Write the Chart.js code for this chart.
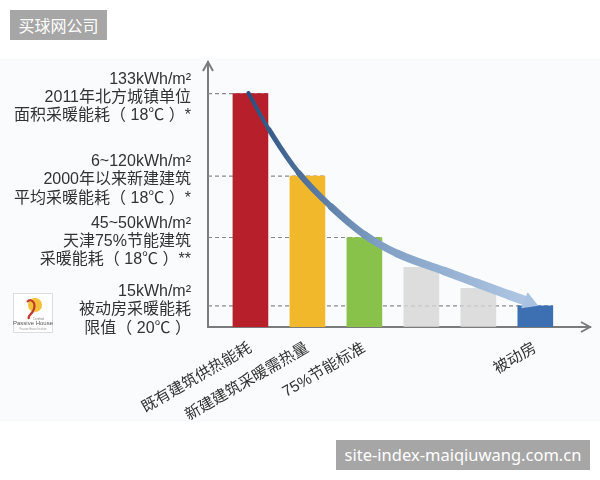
<!DOCTYPE html>
<html>
<head>
<meta charset="utf-8">
<script src="https://cdn.jsdelivr.net/npm/chart.js@4"></script>
<style>
  body { margin: 0; background: #fff; }
  #wrap { position: relative; width: 600px; height: 480px; overflow: hidden; }
  #photo { position: absolute; left: 0; top: 58px; width: 600px; height: 364px; background: #fafbfc; }
  #wrap canvas { position: absolute; left: 0; top: 0; }
  .mark { position: absolute; background: #a6a6a6; color: #fff; font-family: 'Noto Sans CJK SC', 'Noto Sans', sans-serif; text-align: center; }
  #mark1 { left: 10px; top: 10px; width: 97px; height: 30px; line-height: 30px; font-size: 16px; }
  #mark2 { left: 336px; top: 440px; width: 254px; height: 30px; line-height: 30px; font-size: 16.5px; font-family: 'Noto Sans', sans-serif; }
  #logo { position: absolute; left: 13px; top: 293px; width: 40px; height: 40px; }
</style>
</head>
<body>
<div id="wrap">
  <div id="photo"></div>
  <canvas id="chart" width="600" height="480"></canvas>
  <svg id="logo" viewBox="0 0 40 40">
    <rect x="0.5" y="0.5" width="39" height="39" fill="#fff" stroke="#ddd"/>
    <circle cx="22" cy="12" r="7" fill="#f4c03a"/>
    <path d="M14 9 q4 -4 7 1 q2 6 -4 12 q-2 2 -1 4" fill="none" stroke="#c0392b" stroke-width="2.2"/>
    <text x="31" y="27" font-size="3" fill="#888" text-anchor="end" font-family="Liberation Sans">Certified</text>
    <text x="20" y="32" font-size="6" fill="#555" text-anchor="middle" font-family="Liberation Sans">Passive House</text>
    <text x="20" y="36.5" font-size="2.6" fill="#999" text-anchor="middle" font-family="Liberation Sans">Passive House Institute</text>
  </svg>
  <div id="mark1" class="mark">买球网公司</div>
  <div id="mark2" class="mark">site-index-maiqiuwang.com.cn</div>
</div>
<script>
const categories = ['既有建筑供热能耗', '新建建筑采暖需热量', '75%节能标准', '', '', '被动房'];
const barValues = [133, 86, 51, 34, 22, 12];
const barColors = ['#b71f2a', '#f2b82b', '#88c24b', 'rgba(214,214,214,0.8)', 'rgba(214,214,214,0.8)', '#3c70b3'];

const tickValues = [133, 86, 51, 12];
const tickLabels = [
  ['133kWh/m²', '2011年北方城镇单位', '面积采暖能耗（ 18℃ ）*'],
  ['6~120kWh/m²', '2000年以来新建建筑', '平均采暖能耗（ 18℃ ）*'],
  ['45~50kWh/m²', '天津75%节能建筑', '采暖能耗（ 18℃ ）**'],
  ['15kWh/m²', '被动房采暖能耗', '限值（ 20℃ ）']
];
const dashedBars = [0, 1, 2, 5];

// trend arrow
const curveX = [0.965, 1.33, 1.85, 2.42, 3.01, 3.58, 4.40, 4.97, 5.54, 5.89];
const curveY = [133.3, 112.3, 87.7, 68.4, 52.4, 41.8, 31.9, 25.1, 18.2, 14.2];
const curveWidths = [4, 5, 6, 7, 7.5, 8, 8.5, 9, 9.5];

const FONT = "'Liberation Sans', 'Noto Sans CJK SC', sans-serif";
const AXIS = '#7b7b7b';

const guides = {
  id: 'guides',
  beforeDatasetsDraw(chart) {
    const meta = chart.getDatasetMeta(1);
    const ctx = chart.ctx;
    const left = chart.chartArea.left;
    ctx.save();
    ctx.setLineDash([4, 3]);
    ctx.strokeStyle = '#8a8a8a';
    ctx.lineWidth = 1.2;
    dashedBars.forEach(i => {
      const b = meta.data[i];
      ctx.beginPath();
      ctx.moveTo(left, b.y);
      ctx.lineTo(b.x + b.width / 2, b.y);
      ctx.stroke();
    });
    ctx.restore();
  },
  afterDraw(chart) {
    const ctx = chart.ctx;
    const a = chart.chartArea;
    ctx.save();
    ctx.strokeStyle = AXIS;
    ctx.lineWidth = 2;
    ctx.beginPath();
    ctx.moveTo(a.left - 5, a.top + 9);
    ctx.lineTo(a.left, a.top);
    ctx.lineTo(a.left + 5, a.top + 9);
    ctx.moveTo(a.right - 9, a.bottom - 5);
    ctx.lineTo(a.right, a.bottom);
    ctx.lineTo(a.right - 9, a.bottom + 5);
    ctx.stroke();
    ctx.restore();
  }
};

new Chart(document.getElementById('chart'), {
  data: {
    datasets: [{
      type: 'line',
      data: curveX.map((x, i) => ({ x: x, y: curveY[i] })),
      borderColor: function (c) {
        const a = c.chart.chartArea;
        if (!a) return '#5a7fab';
        const g = c.chart.ctx.createLinearGradient(a.left + 40, 0, a.right - 50, 0);
        g.addColorStop(0, '#2a4f7e');
        g.addColorStop(0.45, '#809fc4');
        g.addColorStop(1, '#b3cae6');
        return g;
      },
      borderCapStyle: 'round',
      borderJoinStyle: 'round',
      segment: {
        borderWidth: c => curveWidths[c.p0DataIndex]
      },
      tension: 0.4,
      pointStyle: 'triangle',
      rotation: 112,
      pointRadius: c => c.dataIndex === curveX.length - 1 ? 10 : 0,
      pointBackgroundColor: '#a9c2e2',
      pointBorderWidth: 0,
      order: 0
    }, {
      type: 'bar',
      data: barValues.map((v, i) => ({ x: i + 1, y: v })),
      backgroundColor: barColors,
      barThickness: 35,
      order: 1
    }]
  },
  options: {
    responsive: false,
    animation: false,
    layout: { padding: { top: 62, right: 5, bottom: 0, left: 0 } },
    plugins: { legend: { display: false }, tooltip: { enabled: false } },
    scales: {
      x: {
        type: 'linear',
        offset: false,
        min: 0.255,
        max: 6.96,
        grid: { drawOnChartArea: false, drawTicks: false },
        border: { color: AXIS, width: 2 },
        afterBuildTicks: s => { s.ticks = categories.map((c, i) => ({ value: i + 1 })); },
        afterFit: s => { s.height = 153; },
        ticks: {
          autoSkip: false,
          minRotation: 30,
          maxRotation: 30,
          padding: 12,
          color: '#333',
          font: { family: FONT, size: 15.5 },
          callback: v => categories[v - 1] || ''
        }
      },
      y: {
        min: 0,
        max: 151,
        grid: { drawOnChartArea: false, drawTicks: false },
        border: { color: AXIS, width: 2 },
        afterBuildTicks: s => { s.ticks = tickValues.map(v => ({ value: v })); },
        afterFit: s => { s.width = 208; },
        ticks: {
          padding: 17,
          labelOffset: 4,
          color: '#333',
          font: { family: FONT, size: 16, lineHeight: 1.15 },
          callback: v => tickLabels[tickValues.indexOf(v)]
        }
      }
    }
  },
  plugins: [guides]
});
</script>
</body>
</html>
